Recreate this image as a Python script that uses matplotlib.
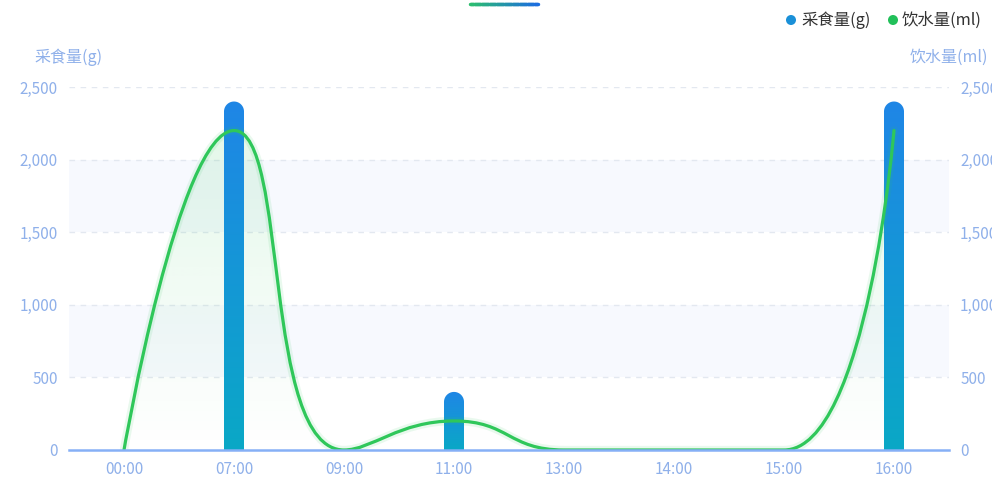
import numpy as np
import matplotlib.pyplot as plt
from matplotlib.path import Path
from matplotlib.patches import PathPatch
from matplotlib.collections import LineCollection
from matplotlib.colors import LinearSegmentedColormap, to_rgb
from matplotlib.ticker import FuncFormatter

plt.rcParams['font.family'] = ['Noto Sans CJK SC', 'DejaVu Sans']

# data
hours = ['00:00', '07:00', '09:00', '11:00', '13:00', '14:00', '15:00', '16:00']
feed = [0, 2400, 0, 400, 0, 0, 0, 2400]      # 采食量(g)
water = [0, 2200, 0, 200, 0, 0, 0, 2200]     # 饮水量(ml)
y_ticks = [0, 500, 1000, 1500, 2000, 2500]

label_c = '#8FB0EA'
axis_c = '#86B0F6'
grid_c = '#E3E8F0'
band_c = '#F7F9FE'
green = '#2FC75A'
bar_top = '#1F86E6'
bar_bottom = '#0AA8C6'

W, H = 992, 480
fig = plt.figure(figsize=(W / 100, H / 100), dpi=100)
x0, x1 = 69, 949
y0, y1 = 450, 87
ax = fig.add_axes([x0 / W, 1 - y0 / H, (x1 - x0) / W, (y0 - y1) / H])
ax.set_xlim(-0.5, len(hours) - 0.5)
ax.set_ylim(0, 2500)
for s in ax.spines.values():
    s.set_visible(False)

px_x = (x1 - x0) / len(hours)       # pixels per category
px_y = (y0 - y1) / 2500.0           # pixels per unit

# alternating split area + dashed grid
for i in range(len(y_ticks) - 1):
    if i % 2 == 1:
        ax.axhspan(y_ticks[i], y_ticks[i + 1], color=band_c, lw=0, zorder=0)
for t in y_ticks[1:]:
    ax.axhline(t, color=grid_c, lw=1, ls=(0, (4, 4)), zorder=1)
ax.axhline(0, color=axis_c, lw=1.8, zorder=6, clip_on=False)

fmt = FuncFormatter(lambda v, p: f'{int(v):,}')
ax.set_xticks(range(len(hours)))
ax.set_xticklabels(hours)
ax.set_yticks(y_ticks)
ax.yaxis.set_major_formatter(fmt)
ax.tick_params(axis='both', length=0, colors=label_c, labelsize=11)
ax.tick_params(axis='x', pad=8)
ax.tick_params(axis='y', pad=8)

ax2 = ax.twinx()
ax2.set_ylim(0, 2500)
ax2.set_yticks(y_ticks)
ax2.yaxis.set_major_formatter(fmt)
ax2.tick_params(axis='y', length=0, colors=label_c, labelsize=11, pad=8)
for s in ax2.spines.values():
    s.set_visible(False)
ax2.set_zorder(-1)

fig.text(x0 / W, 1 - 57 / H, '采食量(g)', color=label_c, fontsize=11.5, ha='center', va='center')
fig.text(x1 / W, 1 - 57 / H, '饮水量(ml)', color=label_c, fontsize=11.5, ha='center', va='center')


def smooth_path(xs, ys, smooth=0.5):
    # bezier smoothing with control points clamped to neighbour boxes
    P = [(x * px_x, y * px_y) for x, y in zip(xs, ys)]
    n = len(P)
    verts = [P[0]]
    codes = [Path.MOVETO]
    cp0 = P[0]
    for k in range(1, n):
        x, y = P[k]
        px, py = P[k - 1]
        if k == n - 1:
            cp1 = (x, y)
            ncp0 = None
        else:
            nx, ny = P[k + 1]
            vx, vy = nx - px, ny - py
            lp = np.hypot(x - px, y - py)
            ln = np.hypot(nx - x, ny - y)
            r = ln / (ln + lp)
            ncx = x + vx * smooth * r
            ncy = y + vy * smooth * r
            ncx = max(min(ncx, max(nx, x)), min(nx, x))
            ncy = max(min(ncy, max(ny, y)), min(ny, y))
            vx, vy = ncx - x, ncy - y
            c1x = x - vx * lp / ln
            c1y = y - vy * lp / ln
            c1x = max(min(c1x, max(px, x)), min(px, x))
            c1y = max(min(c1y, max(py, y)), min(py, y))
            vx, vy = x - c1x, y - c1y
            ncp0 = (x + vx * ln / lp, y + vy * ln / lp)
            cp1 = (c1x, c1y)
        verts += [cp0, cp1, (x, y)]
        codes += [Path.CURVE4] * 3
        cp0 = ncp0
    verts = [(a / px_x, b / px_y) for a, b in verts]
    return verts, codes


xs = np.arange(len(hours))
verts, codes = smooth_path(xs, water)

# gradient area under the water curve (strong at top, fading downwards)
area = Path(verts + [(xs[-1], 0), (xs[0], 0), (xs[0], 0)],
            codes + [Path.LINETO, Path.LINETO, Path.CLOSEPOLY])
area_patch = PathPatch(area, fc='none', ec='none')
ax.add_patch(area_patch)
g = np.zeros((256, 1, 4))
g[..., :3] = to_rgb(green)
g[:, 0, 3] = np.linspace(0.13, 0.0, 256)
im = ax.imshow(g, extent=[xs[0], xs[-1], 0, max(water)], origin='upper',
               aspect='auto', zorder=2, interpolation='bilinear')
im.set_clip_path(area_patch)

# bars with rounded tops and vertical gradient
bar_w = 20 / px_x
rx = bar_w / 2
ry = 10 / px_y
bar_cmap = LinearSegmentedColormap.from_list('bar', [bar_bottom, bar_top])
for x, v in zip(xs, feed):
    if v <= 0:
        continue
    th = np.linspace(np.pi, 0, 30)
    pts = [(x - rx, 0), (x - rx, v - ry)]
    pts += [(x + rx * np.cos(t), v - ry + ry * np.sin(t)) for t in th]
    pts += [(x + rx, 0), (x - rx, 0)]
    bp = PathPatch(Path(pts), fc='none', ec='none')
    ax.add_patch(bp)
    grad = np.linspace(1, 0, 256).reshape(-1, 1)
    bi = ax.imshow(grad, cmap=bar_cmap, extent=[x - rx, x + rx, 0, v],
                   aspect='auto', zorder=3, interpolation='bilinear')
    bi.set_clip_path(bp)

# water curve with soft glow
line_path = Path(verts, codes)
ax.add_patch(PathPatch(line_path, fc='none', ec=green, lw=6, alpha=0.10, zorder=4,
                       capstyle='round'))
ax.add_patch(PathPatch(line_path, fc='none', ec=green, lw=2.3, zorder=5,
                       capstyle='round', joinstyle='round'))
ax.set_xlim(-0.5, len(hours) - 0.5)
ax.set_ylim(0, 2500)

# legend
leg_ax = fig.add_axes([0, 0, 1, 1], facecolor='none')
leg_ax.set_xlim(0, W)
leg_ax.set_ylim(H, 0)
leg_ax.axis('off')
leg_ax.scatter([791, 893], [20, 20], s=52, c=['#1A90D8', '#22C05A'], lw=0)
fig.text(801 / W, 1 - 20 / H, '采食量(g)', color='#333333', fontsize=11.8, va='center')
fig.text(902 / W, 1 - 20 / H, '饮水量(ml)', color='#333333', fontsize=11.8, va='center')

# short gradient bar at the top
lx = np.linspace(470, 538, 60)
segs = [[(lx[i], 4), (lx[i + 1], 4)] for i in range(len(lx) - 1)]
top_cmap = LinearSegmentedColormap.from_list('top', ['#2DBF6E', '#1C6EE0'])
lc = LineCollection(segs, colors=top_cmap(np.linspace(0, 1, len(segs))), lw=2.5,
                    capstyle='round')
leg_ax.add_collection(lc)

fig.savefig('out.png', dpi=100)
